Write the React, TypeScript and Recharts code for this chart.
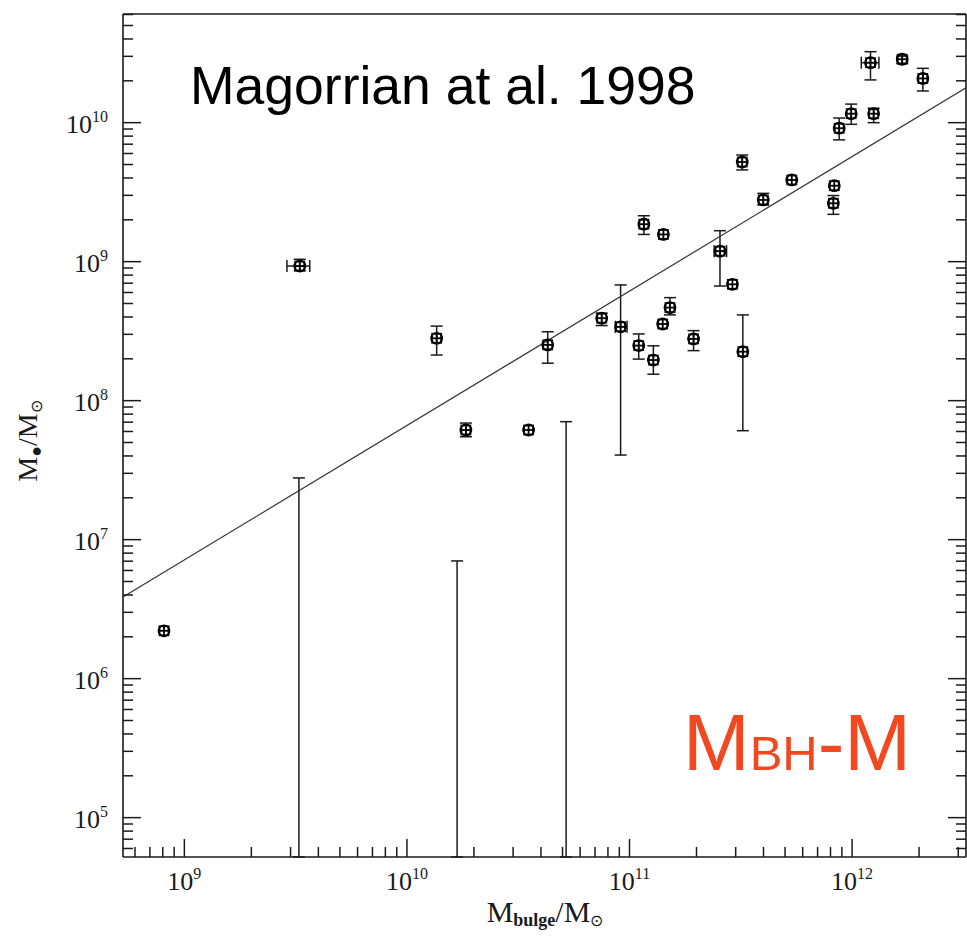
import { ErrorBar, Scatter, ScatterChart, XAxis, YAxis } from "recharts";

const W = 967;
const H = 937;

const ink = "#1a1a1a";
const serif = "'Liberation Serif', 'Times New Roman', serif";
const sans = "'Liberation Sans', Arial, sans-serif";

// axis ranges (solar masses) and the decades that get ticks
const xDomain: [number, number] = [5.3e8, 3.25e12];
const yDomain: [number, number] = [5.21e4, 6.05e10];
const xDecades = [8, 9, 10, 11, 12];
const yDecades = [4, 5, 6, 7, 8, 9, 10];

// galaxies with a measured black hole mass
const bulgeMass = [
  8.1e8, 3.3e9, 1.36e10, 1.84e10, 3.52e10, 4.29e10, 7.5e10, 9.12e10, 1.16e11, 1.42e11,
  1.52e11, 1.41e11, 1.1e11, 1.28e11, 1.94e11, 2.55e11, 2.9e11, 3.23e11, 3.99e11, 3.21e11,
  5.36e11, 8.32e11, 8.24e11, 8.75e11, 9.91e11, 1.25e12, 1.21e12, 1.68e12, 2.08e12,
];
const bhMass = [
  2.21e6, 9.3e8, 2.81e8, 6.15e7, 6.15e7, 2.52e8, 3.92e8, 3.4e8, 1.86e9, 1.57e9,
  4.67e8, 3.56e8, 2.49e8, 1.96e8, 2.78e8, 1.19e9, 6.87e8, 2.25e8, 2.78e9, 5.21e9,
  3.87e9, 3.52e9, 2.63e9, 9.12e9, 1.16e10, 1.16e10, 2.7e10, 2.86e10, 2.08e10,
];
const bhLow: (number | null)[] = [
  null, 8.6e8, 2.13e8, 5.5e7, null, 1.86e8, 3.47e8, 4.06e7, 1.57e9, null,
  4.14e8, null, 1.99e8, 1.55e8, 2.29e8, 6.68e8, null, 6.08e7, 2.56e9, 4.57e9,
  null, null, 2.19e9, 7.52e9, 9.73e9, 1.0e10, 2.03e10, 2.67e10, 1.69e10,
];
const bhHigh: (number | null)[] = [
  null, 1.04e9, 3.44e8, 6.9e7, null, 3.13e8, 4.26e8, 6.8e8, 2.14e9, null,
  5.51e8, null, 3.02e8, 2.48e8, 3.19e8, 1.67e9, null, 4.14e8, 3.1e9, 5.85e9,
  null, null, 2.99e9, 1.08e10, 1.36e10, 1.27e10, 3.24e10, 3.01e10, 2.46e10,
];
// bulge mass ranges, only where drawn
const bulgeLow: (number | null)[] = [
  null, 2.89e9, null, null, null, null, null, 8.63e10, null, null,
  null, null, null, null, null, 2.4e11, null, null, null, null,
  null, null, null, null, null, null, 1.1e12, null, null,
];
const bulgeHigh: (number | null)[] = [
  null, 3.66e9, null, null, null, null, null, 9.75e10, null, null,
  null, null, null, null, null, 2.73e11, null, null, null, null,
  null, null, null, null, null, null, 1.32e12, null, null,
];

// upper limits on the black hole mass
const limitBulge = [3.27e9, 1.68e10, 5.19e10];
const limitBH = [2.78e7, 7.03e6, 7.06e7];

// ends of the fitted relation
const fitBulge = [5.3e8, 3.25e12];
const fitBH = [3.87e6, 1.78e10];

const points = bulgeMass.map((m, i) => {
  const lo = bhLow[i];
  const hi = bhHigh[i];
  const xl = bulgeLow[i];
  const xh = bulgeHigh[i];
  return {
    x: m,
    y: bhMass[i],
    ey: lo != null && hi != null ? [bhMass[i] - lo, hi - bhMass[i]] : undefined,
    ex: xl != null && xh != null ? [m - xl, xh - m] : undefined,
  };
});

const limits = limitBulge.map((m, i) => ({
  x: m,
  y: limitBH[i],
  ey: [limitBH[i] - yDomain[0], 0],
}));

const fitRows = fitBulge.map((m, i) => ({ x: m, y: fitBH[i] }));

function buildTicks(decades: number[], [lo, hi]: [number, number]) {
  const out: number[] = [];
  decades.forEach((d) => {
    for (let k = 1; k <= 9; k++) {
      const v = k * 10 ** d;
      if (v >= lo && v <= hi) out.push(v);
    }
  });
  return out;
}

const xTicks = buildTicks(xDecades, xDomain);
const yTicks = buildTicks(yDecades, yDomain);

const exponent = (v: number) => Math.round(Math.log10(v));
const isDecade = (v: number) => Math.abs(Math.log10(v) - exponent(v)) < 1e-6;

const MAJOR = 18;
const MINOR = 10;

function Power({ v, x, y, anchor }: { v: number; x: number; y: number; anchor: "middle" | "end" }) {
  return (
    <text x={x} y={y} textAnchor={anchor} fontFamily={serif} fontSize={26} fill={ink}>
      10
      <tspan fontSize={16} dy={-11}>
        {exponent(v)}
      </tspan>
    </text>
  );
}

const BottomTick = (props: any) => {
  const { x, y, payload } = props;
  const major = isDecade(payload.value);
  return (
    <g>
      <line x1={x} y1={y} x2={x} y2={y - (major ? MAJOR : MINOR)} stroke={ink} strokeWidth={1.5} />
      {major && <Power v={payload.value} x={x} y={y + 33} anchor="middle" />}
    </g>
  );
};

const TopTick = (props: any) => {
  const { x, y, payload } = props;
  const major = isDecade(payload.value);
  return <line x1={x} y1={y} x2={x} y2={y + (major ? MAJOR : MINOR)} stroke={ink} strokeWidth={1.5} />;
};

const LeftTick = (props: any) => {
  const { x, y, payload } = props;
  const major = isDecade(payload.value);
  return (
    <g>
      <line x1={x} y1={y} x2={x + (major ? MAJOR : MINOR)} y2={y} stroke={ink} strokeWidth={1.5} />
      {major && <Power v={payload.value} x={x - 15} y={y + 10} anchor="end" />}
    </g>
  );
};

const RightTick = (props: any) => {
  const { x, y, payload } = props;
  const major = isDecade(payload.value);
  return <line x1={x} y1={y} x2={x - (major ? MAJOR : MINOR)} y2={y} stroke={ink} strokeWidth={1.5} />;
};

// circle-and-square symbol with a cross through it
const Marker = (props: any) => {
  const { cx, cy } = props;
  if (cx == null || cy == null) return <g />;
  return (
    <g stroke="#000" strokeWidth={1.8} fill="none">
      <rect x={cx - 4.5} y={cy - 4.5} width={9} height={9} />
      <circle cx={cx} cy={cy} r={5.5} />
      <line x1={cx - 5} y1={cy} x2={cx + 5} y2={cy} />
      <line x1={cx} y1={cy - 5} x2={cx} y2={cy + 5} />
    </g>
  );
};

const Nothing = () => <g />;

const axisLine = { stroke: ink, strokeWidth: 1.6 };

export default function App() {
  return (
    <div style={{ position: "absolute", left: 0, top: 0, width: W, height: H, background: "#fff" }}>
      <ScatterChart width={W} height={H} margin={{ top: 0, right: 0, bottom: 0, left: 0 }}>
        <XAxis
          xAxisId="b"
          type="number"
          dataKey="x"
          scale="log"
          domain={xDomain}
          allowDataOverflow
          ticks={xTicks}
          interval={0}
          tick={BottomTick}
          tickLine={false}
          tickSize={0}
          tickMargin={0}
          axisLine={axisLine}
          height={80}
        />
        <XAxis
          xAxisId="t"
          orientation="top"
          type="number"
          scale="log"
          domain={xDomain}
          allowDataOverflow
          ticks={xTicks}
          interval={0}
          tick={TopTick}
          tickLine={false}
          tickSize={0}
          tickMargin={0}
          axisLine={axisLine}
          height={14}
        />
        <YAxis
          yAxisId="l"
          type="number"
          dataKey="y"
          scale="log"
          domain={yDomain}
          allowDataOverflow
          ticks={yTicks}
          interval={0}
          tick={LeftTick}
          tickLine={false}
          tickSize={0}
          tickMargin={0}
          axisLine={axisLine}
          width={123}
        />
        <YAxis
          yAxisId="r"
          orientation="right"
          type="number"
          scale="log"
          domain={yDomain}
          allowDataOverflow
          ticks={yTicks}
          interval={0}
          tick={RightTick}
          tickLine={false}
          tickSize={0}
          tickMargin={0}
          axisLine={axisLine}
          width={1}
        />
        <Scatter xAxisId="t" yAxisId="r" data={[]} isAnimationActive={false} />
        <Scatter
          xAxisId="b"
          yAxisId="l"
          data={fitRows}
          line={{ stroke: "#333", strokeWidth: 1.2 }}
          shape={Nothing}
          isAnimationActive={false}
        />
        <Scatter xAxisId="b" yAxisId="l" data={limits} shape={Nothing} isAnimationActive={false}>
          <ErrorBar dataKey="ey" direction="y" width={6} stroke={ink} strokeWidth={1.5} />
        </Scatter>
        <Scatter xAxisId="b" yAxisId="l" data={points} shape={Marker} isAnimationActive={false}>
          <ErrorBar dataKey="ey" direction="y" width={6} stroke={ink} strokeWidth={1.5} />
          <ErrorBar dataKey="ex" direction="x" width={6} stroke={ink} strokeWidth={1.5} />
        </Scatter>
      </ScatterChart>
      <svg
        width={W}
        height={H}
        style={{ position: "absolute", left: 0, top: 0, pointerEvents: "none" }}
      >
        <text x={190} y={104} fontFamily={sans} fontSize={53.5} fill="#000">
          Magorrian at al. 1998
        </text>
        <text x={683} y={770} fontFamily={sans} fontSize={80} fill="#F2481F">
          M<tspan fontSize={49}>BH</tspan>-M
        </text>
        <text x={545} y={922} textAnchor="middle" fontFamily={serif} fontSize={30} fill={ink}>
          M
          <tspan fontSize={18} fontWeight="bold" dy={4}>
            bulge
          </tspan>
          <tspan dy={-4}>/M</tspan>
          <tspan fontSize={16} dy={4}>
            ⊙
          </tspan>
        </text>
        <text
          x={37}
          y={441}
          transform="rotate(-90 37 441)"
          textAnchor="middle"
          fontFamily={serif}
          fontSize={28}
          fill={ink}
        >
          M
          <tspan fontSize={18} dy={5}>
            ●
          </tspan>
          <tspan dy={-5}>/M</tspan>
          <tspan fontSize={16} dy={5}>
            ⊙
          </tspan>
        </text>
      </svg>
    </div>
  );
}
